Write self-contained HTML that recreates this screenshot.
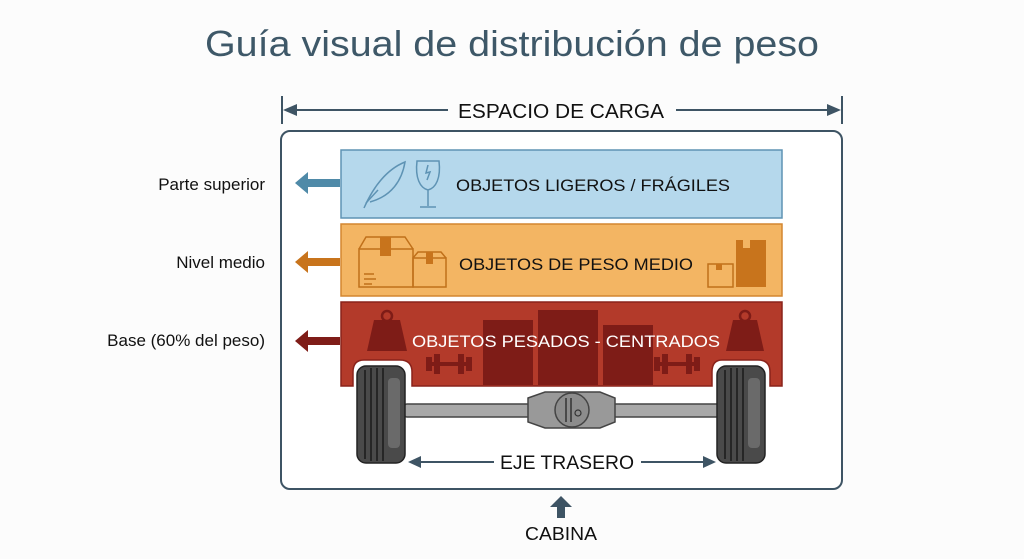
<!DOCTYPE html>
<html><head><meta charset="utf-8"><style>html,body{margin:0;padding:0;background:#fff}svg{display:block}</style></head>
<body>
<svg width="1024" height="559" viewBox="0 0 1024 559" xmlns="http://www.w3.org/2000/svg" font-family="Liberation Sans, sans-serif">
<rect width="1024" height="559" fill="#fcfcfc"/>
<text x="512" y="56" text-anchor="middle" font-size="36" fill="#3e5868" textLength="614" lengthAdjust="spacingAndGlyphs">Guía visual de distribución de peso</text>
<!-- dimension -->
<g stroke="#3e5464" stroke-width="2" fill="#3e5464">
<line x1="282" y1="96" x2="282" y2="124"/><line x1="842" y1="96" x2="842" y2="124"/>
<line x1="290" y1="110" x2="448" y2="110"/><line x1="676" y1="110" x2="834" y2="110"/>
<polygon points="283,110 297,104 297,116" stroke="none"/><polygon points="841,110 827,104 827,116" stroke="none"/>
</g>
<text x="561" y="118" text-anchor="middle" font-size="20" fill="#111" textLength="206" lengthAdjust="spacingAndGlyphs">ESPACIO DE CARGA</text>
<rect x="281" y="131" width="561" height="358" rx="9" fill="#fff" stroke="#3e5464" stroke-width="2"/>
<!-- left labels -->
<g font-size="17" fill="#111" text-anchor="end">
<text x="265" y="190">Parte superior</text>
<text x="265" y="268">Nivel medio</text>
<text x="265" y="346">Base (60% del peso)</text>
</g>
<polygon points="295,183 308,172 308,179 340,179 340,187 308,187 308,194" fill="#4f8aa8"/>
<polygon points="295,262 308,251 308,258 340,258 340,266 308,266 308,273" fill="#c8741c"/>
<polygon points="295,341 308,330 308,337 340,337 340,345 308,345 308,352" fill="#7f1d18"/>
<!-- blue band -->
<rect x="341" y="150" width="441" height="68" fill="#b5d8ec" stroke="#5e93b4" stroke-width="1.5"/>
<g fill="none" stroke="#5e93b4" stroke-width="1.5">
<path d="M364,208 C372,190 385,170 405,162 C402,180 392,196 370,202"/>
<path d="M378,190 L366,203"/>
<path d="M417,161 L439,161 C441,178 436,188 428,190 C420,188 415,178 417,161 Z M428,190 L428,206 M420,207 L436,207 M428,165 L426,173 L430,172 L427,180"/>
</g>
<text x="593" y="191" text-anchor="middle" font-size="17" fill="#111" textLength="274" lengthAdjust="spacingAndGlyphs">OBJETOS LIGEROS / FRÁGILES</text>
<!-- orange band -->
<rect x="341" y="224" width="441" height="72" fill="#f3b563" stroke="#d38630" stroke-width="1.5"/>
<g fill="none" stroke="#c0701a" stroke-width="1.5">
<rect x="359" y="249" width="54" height="38"/><path d="M359,249 L366,237 L405,237 L413,249"/>
<rect x="413" y="258" width="33" height="29"/><path d="M413,258 L418,252 L441,252 L446,258"/>
<path d="M364,274 H374 M364,279 H376 M364,284 H372"/>
<rect x="708" y="264" width="25" height="23"/>
</g>
<rect x="380" y="237" width="11" height="19" fill="#c8741c"/>
<rect x="426" y="252" width="7" height="12" fill="#c8741c"/>
<rect x="716" y="264" width="6" height="6" fill="#c8741c"/>
<path d="M736,240 H743 V248 H750 V240 H766 V287 H736 Z" fill="#c8741c"/>
<text x="576" y="270" text-anchor="middle" font-size="17" fill="#111" textLength="234" lengthAdjust="spacingAndGlyphs">OBJETOS DE PESO MEDIO</text>
<!-- red band -->
<path d="M341,302 H782 V386 H770 V372 Q770,360 758,360 H722 Q712,360 712,372 V386 H412 V372 Q412,360 400,360 H364 Q353,360 353,372 V386 H341 Z" fill="#b33a2a" stroke="#8a231b" stroke-width="1.5"/>
<rect x="483" y="320" width="50" height="65" fill="#7e1c17"/>
<rect x="538" y="310" width="60" height="75" fill="#7e1c17"/>
<rect x="603" y="325" width="50" height="60" fill="#7e1c17"/>
<g fill="#7e1c17">
<path d="M367,351 L374,320 H400 L407,351 Z"/><circle cx="387" cy="316" r="5" fill="none" stroke="#7e1c17" stroke-width="2.5"/>
<path d="M726,351 L733,320 H757 L764,351 Z"/><circle cx="745" cy="316" r="5" fill="none" stroke="#7e1c17" stroke-width="2.5"/>
<rect x="430" y="362" width="38" height="4"/><rect x="426" y="357" width="6" height="14"/><rect x="434" y="354" width="6" height="20"/><rect x="458" y="354" width="6" height="20"/><rect x="466" y="357" width="6" height="14"/>
<rect x="658" y="362" width="38" height="4"/><rect x="654" y="357" width="6" height="14"/><rect x="662" y="354" width="6" height="20"/><rect x="686" y="354" width="6" height="20"/><rect x="694" y="357" width="6" height="14"/>
</g>
<text x="566" y="347" text-anchor="middle" font-size="17" fill="#fff" textLength="308" lengthAdjust="spacingAndGlyphs">OBJETOS PESADOS - CENTRADOS</text>
<!-- axle -->
<rect x="404" y="404" width="316" height="13" rx="3" fill="#a8a8a8" stroke="#444" stroke-width="1.5"/>
<path d="M528,398 L545,392 H600 L615,398 V422 L600,428 H545 L528,422 Z" fill="#999" stroke="#444" stroke-width="1.5"/>
<circle cx="572" cy="410" r="17" fill="#8c8c8c" stroke="#444" stroke-width="1.5"/>
<path d="M566,398 V422 M571,398 V422" stroke="#333" stroke-width="1.5"/><circle cx="578" cy="413" r="3" fill="none" stroke="#333" stroke-width="1.2"/>
<!-- wheels -->
<g stroke="#222" stroke-width="1.5">
<rect x="357" y="366" width="48" height="97" rx="9" fill="#4a4a4a"/>
<rect x="717" y="366" width="48" height="97" rx="9" fill="#4a4a4a"/>
</g>
<g stroke="#1a1a1a" stroke-width="1.5">
<path d="M365,370 V459 M371,368 V461 M377,368 V461 M383,368 V461"/>
<path d="M725,370 V459 M731,368 V461 M737,368 V461 M743,368 V461"/>
</g>
<rect x="388" y="378" width="12" height="70" rx="4" fill="#6a6a6a"/>
<rect x="748" y="378" width="12" height="70" rx="4" fill="#6a6a6a"/>
<!-- eje trasero -->
<g stroke="#3e5464" stroke-width="2" fill="#3e5464">
<line x1="414" y1="462" x2="494" y2="462"/><line x1="641" y1="462" x2="710" y2="462"/>
<polygon points="408,462 421,456 421,468" stroke="none"/><polygon points="716,462 703,456 703,468" stroke="none"/>
</g>
<text x="567" y="469" text-anchor="middle" font-size="19" fill="#111" textLength="134" lengthAdjust="spacingAndGlyphs">EJE TRASERO</text>
<!-- cabina -->
<polygon points="561,496 572,507 565,507 565,518 557,518 557,507 550,507" fill="#3e5464"/>
<text x="561" y="540" text-anchor="middle" font-size="18" fill="#111" textLength="72" lengthAdjust="spacingAndGlyphs">CABINA</text>
</svg>
</body></html>
